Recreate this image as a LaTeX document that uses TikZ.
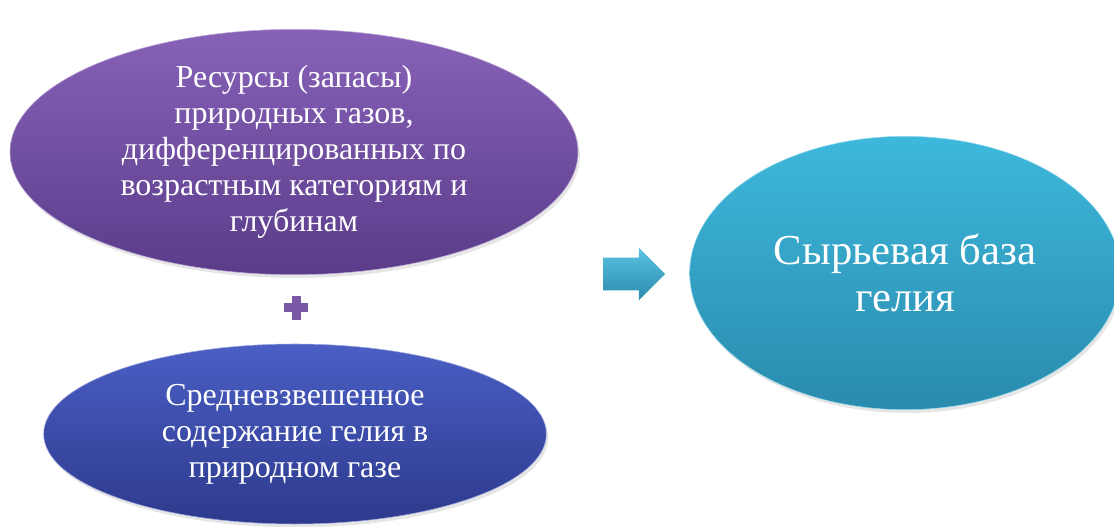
\documentclass[tikz,border=0pt]{standalone}
\usepackage{fontspec}
\setmainfont{Liberation Serif}
\usetikzlibrary{shapes,shadows,positioning,calc}
\definecolor{vioT}{HTML}{8862B8}
\definecolor{vioB}{HTML}{5A3C8A}
\definecolor{bluT}{HTML}{4A5EC4}
\definecolor{bluB}{HTML}{2D3A8C}
\definecolor{tealT}{HTML}{3DB8DC}
\definecolor{tealB}{HTML}{2A8BAD}

\begin{document}
\begin{tikzpicture}
[x=.75pt,y=-.75pt,
lump/.style={ellipse,inner sep=0pt,align=center,text=white,
  font=\rmfamily\fontsize{24}{27}\selectfont,
  drop shadow={opacity=.2,shadow xshift=1.5pt,shadow yshift=-2.5pt}},
vio/.style={lump,top color=vioT,bottom color=vioB,draw=vioT!55!white,
  minimum width=426pt,minimum height=184pt},
blu/.style={lump,top color=bluT,bottom color=bluB,draw=bluT!55!white,
  minimum width=377pt,minimum height=135pt},
teal/.style={lump,top color=tealT,bottom color=tealB,draw=tealT!55!white,
  minimum width=323pt,minimum height=205pt,font=\rmfamily\fontsize{32}{35}\selectfont},
blockarrow/.style={single arrow,inner sep=12pt,minimum height=46.5pt,
  single arrow head extend=7.5pt,top color=tealT!85!white,bottom color=tealB},
plussign/.style={inner sep=0pt,minimum size=18pt}]
%%
\useasboundingbox (0,0) rectangle (1114,527);
%%
\node[vio] (res) at (294,152) {Ресурсы (запасы)\\природных газов,\\дифференцированных по\\возрастным категориям и\\глубинам};
\node[blu] (avg) at (295,434) {Средневзвешенное\\содержание гелия в\\природном газе};
\node[teal] (base) at (905,273) {Сырьевая база\\гелия};
%%
\node[plussign] (plus) at (296,308) {};
\fill[vioT!90!black] ($(plus)+(-12,-4.5)$) rectangle ($(plus)+(12,4.5)$);
\fill[vioT!90!black] ($(plus)+(-4.5,-12)$) rectangle ($(plus)+(4.5,12)$);
\node[blockarrow] (arrow) at (626,274) {};
\end{tikzpicture}
\end{document}
